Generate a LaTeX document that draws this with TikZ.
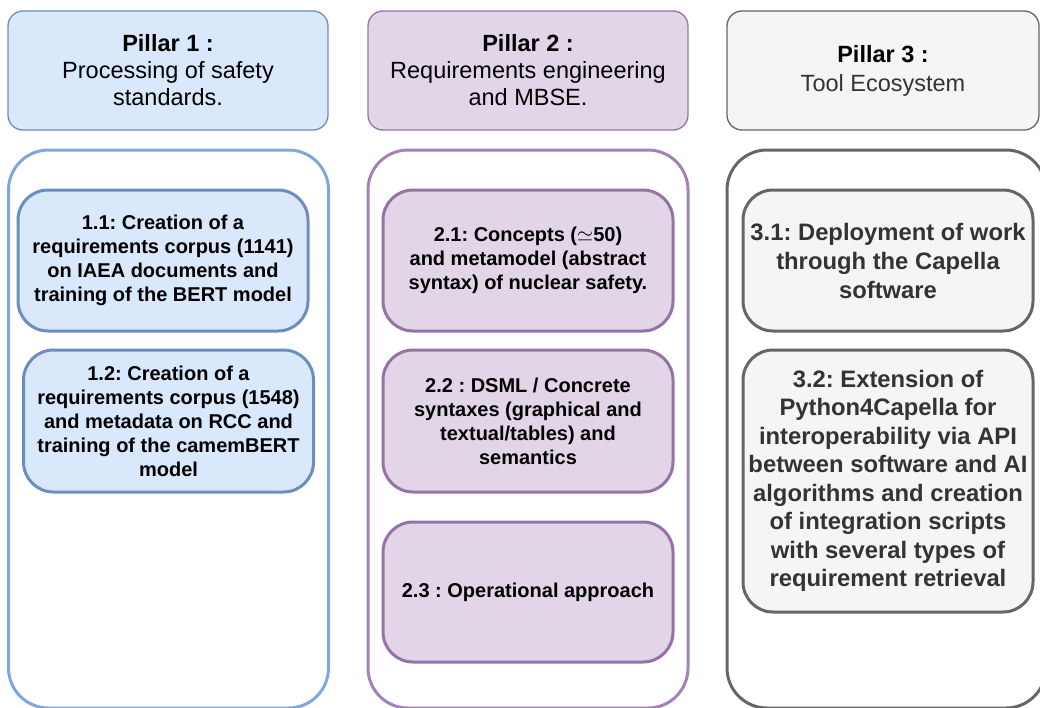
\documentclass[tikz,border=0pt]{standalone}
\usepackage{fontspec}
\setmainfont{Liberation Sans}
\usetikzlibrary{positioning}

\definecolor{blueFill}{HTML}{DAE8FC}
\definecolor{blueLine}{HTML}{6C8EBF}
\definecolor{blueLane}{HTML}{7EA6E0}
\definecolor{purpleFill}{HTML}{E1D5E7}
\definecolor{purpleLine}{HTML}{9673A6}
\definecolor{purpleLane}{HTML}{A680B8}
\definecolor{greyFill}{HTML}{F5F5F5}
\definecolor{greyLine}{HTML}{666666}
\definecolor{greyText}{HTML}{333333}

\frenchspacing
\begin{document}
\begin{tikzpicture}[
        x=1pt, y=-1pt,
        pillar/.style={rectangle, draw, rounded corners=15pt, line width=1.3pt,
            minimum width=320pt, minimum height=119pt, inner sep=0pt,
            align=center, font=\fontsize{23.5}{27}\selectfont},
        lane/.style={rectangle, draw, fill=white, rounded corners=40pt,
            line width=3pt, minimum width=320pt, minimum height=558pt},
        task/.style={rectangle, draw, rounded corners=30pt, line width=3pt,
            minimum width=290pt, minimum height=141pt, inner sep=0pt,
            align=center, font=\bfseries\fontsize{20}{24}\selectfont}
    ]
    \useasboundingbox (0,0) rectangle (1040,707);
    \clip (0,0) rectangle (1040,707);

    % pillar headers
    \node [pillar, fill=blueFill, draw=blueLine] (head1) at (168,70.5)
        {\textbf{Pillar 1 :}\\Processing of safety\\standards.};
    \node [pillar, fill=purpleFill, draw=purpleLine] (head2) at (528,70.5)
        {\textbf{Pillar 2 :}\\Requirements engineering\\and MBSE.};
    \node [pillar, fill=greyFill, draw=greyLine, text=greyText,
        minimum width=312pt, font=\fontsize{23.5}{29}\selectfont] (head3) at (883,70.5)
        {\textcolor{black}{\textbf{Pillar 3 :}}\\Tool Ecosystem};

    % lanes
    \node [lane, draw=blueLane] (lane1) at (168.5,429) {};
    \node [lane, draw=purpleLane] (lane2) at (528,429) {};
    \node [lane, draw=greyLine, minimum width=319pt] (lane3) at (886.5,429) {};

    % pillar 1
    \node [task, fill=blueFill, draw=blueLine] (t11) at (163,260.5)
        {1.1: Creation of a\\requirements corpus (1141)\\on IAEA documents and\\training of the BERT model};
    \node [task, fill=blueFill, draw=blueLine, minimum height=142pt] (t12) at (168.5,421)
        {1.2: Creation of a\\requirements corpus (1548)\\and metadata on RCC and\\training of the camemBERT\\model};

    % pillar 2
    \node [task, fill=purpleFill, draw=purpleLine] (t21) at (528,260.5)
        {2.1: Concepts ($\simeq$50)\\and metamodel (abstract\\syntax) of nuclear safety.};
    \node [task, fill=purpleFill, draw=purpleLine, minimum height=142pt] (t22) at (528,421)
        {2.2 : DSML / Concrete\\syntaxes (graphical and\\textual/tables) and\\semantics};
    \node [task, fill=purpleFill, draw=purpleLine, minimum height=140pt] (t23) at (528,592)
        {2.3 : Operational approach};

    % pillar 3
    \node [task, fill=greyFill, draw=greyLine, text=greyText,
        font=\bfseries\fontsize{23.8}{29}\selectfont] (t31) at (888,260.5)
        {3.1: Deployment of work\\through the Capella\\software};
    \node [task, fill=greyFill, draw=greyLine, text=greyText, minimum height=262pt,
        font=\bfseries\fontsize{23.8}{28.5}\selectfont] (t32) at (888,481)
        {3.2: Extension of\\Python4Capella for\\interoperability via API\\between software and AI\\algorithms and creation\\of integration scripts\\with several types of\\requirement retrieval};
\end{tikzpicture}
\end{document}
